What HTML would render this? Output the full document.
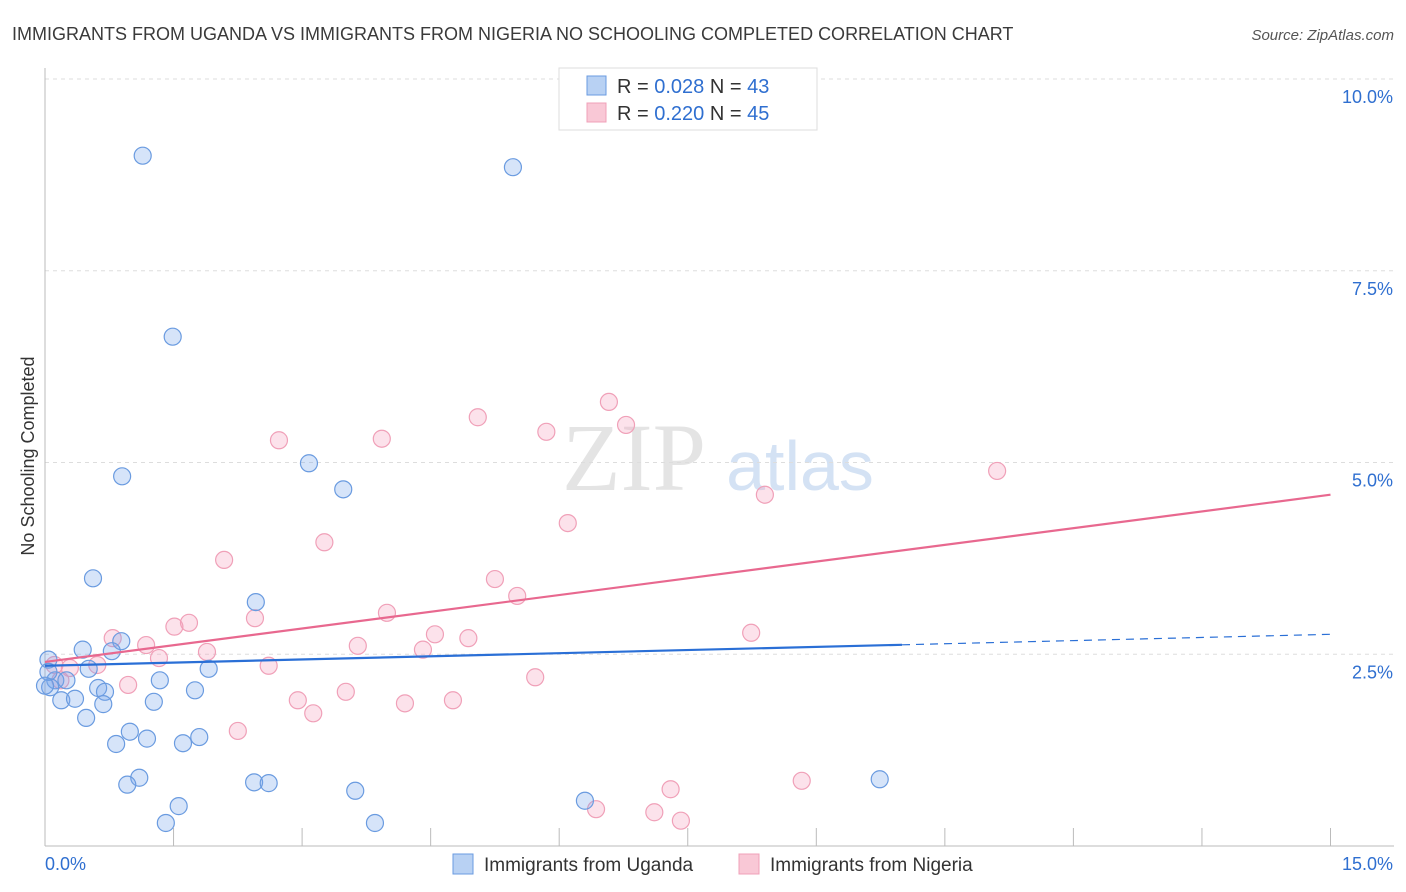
<!DOCTYPE html>
<html><head><meta charset="utf-8"><style>
body{margin:0;background:#fff;font-family:"Liberation Sans",sans-serif;}
svg{display:block}
</style></head><body>
<svg id="c" width="1406" height="892">
<text x="12" y="40" font-size="18" fill="#3a3a3a">IMMIGRANTS FROM UGANDA VS IMMIGRANTS FROM NIGERIA NO SCHOOLING COMPLETED CORRELATION CHART</text>
<text x="1394" y="40" font-size="15" fill="#555" font-style="italic" text-anchor="end">Source: ZipAtlas.com</text>
<text x="634" y="490" font-size="96" fill="#e4e4e4" font-family="Liberation Serif" text-anchor="middle">ZIP</text>
<text x="800" y="490" font-size="70" fill="#d4e2f4" text-anchor="middle">atlas</text>
<text transform="translate(34,456) rotate(-90)" font-size="18" fill="#333" text-anchor="middle">No Schooling Completed</text>
<g id="grid"></g><g id="pts"></g><g id="lines"></g>
<g>
<rect x="559" y="68" width="258" height="62" fill="#fff" stroke="#ddd"/>
<rect x="587" y="76" width="19" height="19" fill="#b8d1f3" stroke="#6a9be0"/>
<text x="617" y="93" font-size="20" fill="#333">R = <tspan fill="#2f6fd0">0.028</tspan>   N = <tspan fill="#2f6fd0">43</tspan></text>
<rect x="587" y="103" width="19" height="19" fill="#f9c8d6" stroke="#f0a0b8"/>
<text x="617" y="120" font-size="20" fill="#333">R = <tspan fill="#2f6fd0">0.220</tspan>   N = <tspan fill="#2f6fd0">45</tspan></text>
</g>
<g>
<rect x="453" y="854" width="20" height="20" fill="#b8d1f3" stroke="#6a9be0"/>
<text x="484" y="871" font-size="19" fill="#333">Immigrants from Uganda</text>
<rect x="739" y="854" width="20" height="20" fill="#f9c8d6" stroke="#f0a0b8"/>
<text x="770" y="871" font-size="19" fill="#333">Immigrants from Nigeria</text>
</g>
</svg>
<script>
const xTicks=[0,1.5,3,4.5,6,7.5,9,10.5,12,13.5,15];
const yTicks=[2.5,5,7.5,10];
const yTickLabels=["2.5%","5.0%","7.5%","10.0%"];
const ugX=[1.14,5.46,1.49,0.90,3.08,3.48,0.56,2.46,0.89,0.44,0.78,0.51,0.04,0.12,0.25,0.06,0.62,0.70,0.19,0.35,0.68,1.27,1.34,1.75,1.91,0.48,0.99,0.83,1.19,1.61,1.80,1.10,0.96,1.56,1.41,2.44,2.61,3.62,3.85,6.30,9.74,0.04,0.0];
const ugY=[9.0,8.85,6.64,4.82,4.99,4.65,3.49,3.18,2.67,2.56,2.54,2.31,2.43,2.16,2.16,2.07,2.06,2.01,1.90,1.92,1.85,1.88,2.16,2.03,2.31,1.67,1.49,1.33,1.40,1.34,1.42,0.89,0.80,0.52,0.30,0.83,0.82,0.72,0.30,0.59,0.87,2.27,2.09];
const ngX=[7.84,2.73,3.93,5.05,5.85,6.58,6.78,11.11,8.40,6.10,2.09,3.26,5.25,5.51,3.99,2.45,1.68,1.51,4.55,4.94,8.24,1.18,0.79,1.89,3.65,4.41,1.33,2.61,5.72,0.97,2.95,3.51,3.13,4.20,4.76,2.25,0.11,0.29,0.61,0.18,8.83,7.30,6.43,7.11,7.42];
const ngY=[9.73,5.29,5.31,5.59,5.40,5.79,5.49,4.89,4.58,4.21,3.73,3.96,3.48,3.26,3.04,2.97,2.91,2.86,2.76,2.71,2.78,2.62,2.71,2.53,2.61,2.56,2.45,2.35,2.20,2.10,1.90,2.01,1.73,1.86,1.90,1.50,2.36,2.32,2.36,2.16,0.85,0.74,0.48,0.44,0.33];
const ugTrend=[2.35,2.76];
const ngTrend=[2.40,4.58];
const NS="http://www.w3.org/2000/svg";
const X=v=>45+v*85.7, Y=v=>846-v*76.7;
function mk(t,a,p){const e=document.createElementNS(NS,t);for(const k in a)e.setAttribute(k,a[k]);p.appendChild(e);return e;}
const grid=document.getElementById('grid');
yTicks.forEach((t,i)=>{
 const l=mk('line',{x1:45,x2:1394,y1:Y(t),y2:Y(t),stroke:'#ddd','stroke-dasharray':'4,4'},grid);
 
 
 const tx=mk('text',{x:1393,y:Y(t)+24,'font-size':18,fill:'#2f6fd0','text-anchor':'end'},grid);
 tx.textContent=yTickLabels[i];
 
 
});
const gl=mk('line',{x1:45,x2:1394,y1:Y(10),y2:Y(10),stroke:'#ddd','stroke-dasharray':'4,4'},grid);
mk('line',{x1:45,x2:45,y1:68,y2:846,stroke:'#bbb'},grid);
mk('line',{x1:45,x2:1394,y1:846,y2:846,stroke:'#bbb'},grid);
xTicks.forEach(t=>{const l=mk('line',{x1:X(t),x2:X(t),y1:828,y2:846,stroke:'#bbb'},grid);
 
 });
let a=mk('text',{x:45,y:870,'font-size':18,fill:'#2f6fd0'},grid);a.textContent='0.0%';


a=mk('text',{x:1393,y:870,'font-size':18,fill:'#2f6fd0','text-anchor':'end'},grid);a.textContent='15.0%';


const pts=document.getElementById('pts');
ngX.forEach((v,i)=>{const c=mk('circle',{cx:X(v),cy:Y(ngY[i]),r:8.5,fill:'rgba(244,160,188,0.3)',stroke:'#f0a0b8','stroke-width':1.2},pts);
 
 });
ugX.forEach((v,i)=>{const c=mk('circle',{cx:X(v),cy:Y(ugY[i]),r:8.5,fill:'rgba(120,165,235,0.3)',stroke:'#6a9be0','stroke-width':1.2},pts);
 
 });
const ln=document.getElementById('lines');
const ub=v=>ugTrend[0]+(ugTrend[1]-ugTrend[0])*v/15;
let l1=mk('line',{x1:X(0),y1:Y(ub(0)),x2:X(10),y2:Y(ub(10)),stroke:'#2a6fd6','stroke-width':2.2},ln);


let l2=mk('line',{x1:X(10),y1:Y(ub(10)),x2:X(15),y2:Y(ub(15)),stroke:'#2a6fd6','stroke-width':1.2,'stroke-dasharray':'8,6'},ln);


let l3=mk('line',{x1:X(0),y1:Y(ngTrend[0]),x2:X(15),y2:Y(ngTrend[1]),stroke:'#e8688f','stroke-width':2.2},ln);


</script>
</body></html>
